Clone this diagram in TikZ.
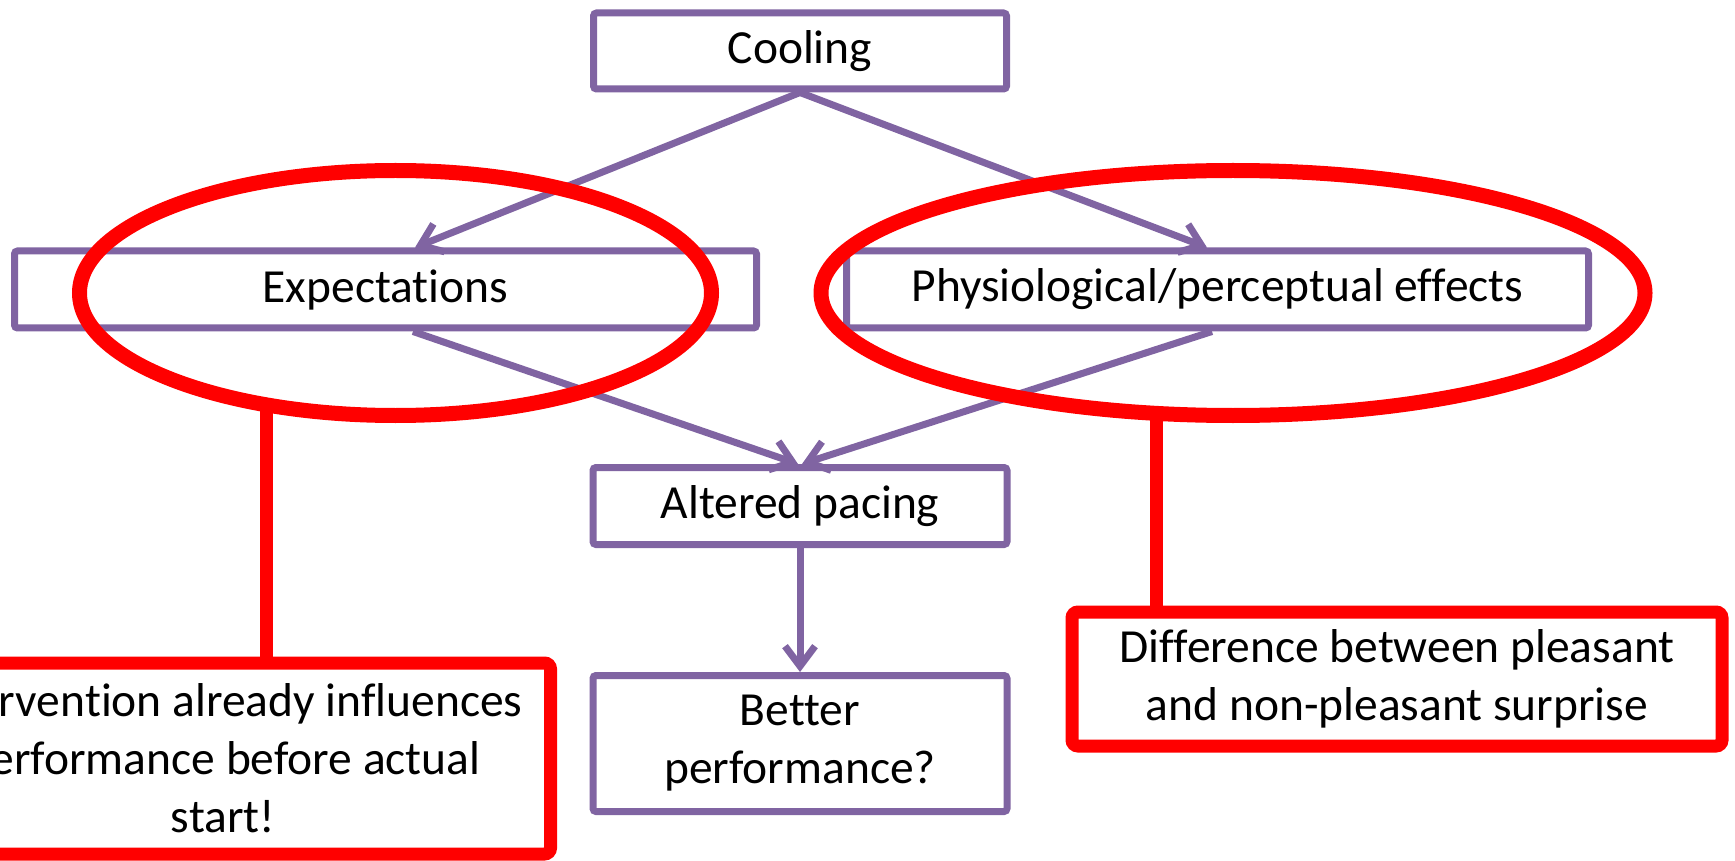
\documentclass[tikz,border=0pt]{standalone}
\usepackage{fontspec}
\setmainfont{Carlito}[Ligatures={NoCommon}]
\usetikzlibrary{arrows.meta,calc,shapes.geometric}
\definecolor{boxpurple}{HTML}{8064A2}
\definecolor{hlred}{HTML}{FF0000}
\begin{document}
\begin{tikzpicture}[x=0.5pt,y=-0.5pt,
  txt/.style={font=\fontsize{23.75}{29}\selectfont},
  pbox/.style={txt, draw=boxpurple, line width=3.5pt, rounded corners=1.5pt, align=center, inner sep=0pt, fill=white},
  parrow/.style={draw=boxpurple, line width=3.5pt, -{Straight Barb[length=10pt,width=15pt]}},
  redell/.style={ellipse, draw=hlred, line width=7.5pt, inner sep=0pt, outer sep=0pt},
  redbox/.style={txt, draw=hlred, line width=6.5pt, rounded corners=3pt, fill=white, align=center, inner sep=0pt},
  redline/.style={draw=hlred, line width=6.5pt},
]
\useasboundingbox (0,0) rectangle (1735,861);
\clip (0,0) rectangle (1735,861);
% purple flow boxes
\node[pbox, minimum width=206.5pt, minimum height=38pt] (cool) at (800,51) {Cooling};
\node[pbox, minimum width=371pt, minimum height=38.5pt] (exp) at (385.5,289.5) {Expectations};
\node[pbox, minimum width=371pt, minimum height=38.5pt] (phys) at (1217.5,289.5) {Physiological/perceptual effects};
\node[pbox, minimum width=207pt, minimum height=38.5pt] (alt) at (800,506) {Altered pacing};
\node[pbox, minimum width=207pt, minimum height=68pt] (better) at (800,743.5) {Better\\performance?};
% connectors
\draw[parrow] (cool.south) -- ([xshift=14.75pt]exp.north);
\draw[parrow] (cool.south) -- ([xshift=-5.25pt]phys.north);
\draw[parrow] ([xshift=13.75pt]exp.south) -- ([xshift=-1pt]alt.north);
\draw[parrow] ([xshift=-2.75pt]phys.south) -- ([xshift=1pt]alt.north);
\draw[parrow] (alt.south) -- (better.north);
% red highlights
\node[redell, minimum width=316pt, minimum height=122.5pt] (lell) at (395.5,293) {};
\node[redell, minimum width=412pt, minimum height=122.5pt] (rell) at (1233,293) {};
\node[redbox, minimum width=327.5pt, minimum height=95.5pt] (lbox) at (223,758.5)
  {Intervention already influences\\performance before actual\\start!};
\node[redbox, minimum width=325pt, minimum height=67pt] (rbox) at (1397,679)
  {Difference between pleasant\\and non-pleasant surprise};
\draw[redline] ([xshift=21.5pt]lbox.north) -- ([xshift=21.5pt]lbox.north |- lell.220.8);
\draw[redline] ([xshift=-120.5pt]rbox.north) -- ([xshift=-120.5pt]rbox.north |- rell.237.4);
\end{tikzpicture}
\end{document}
